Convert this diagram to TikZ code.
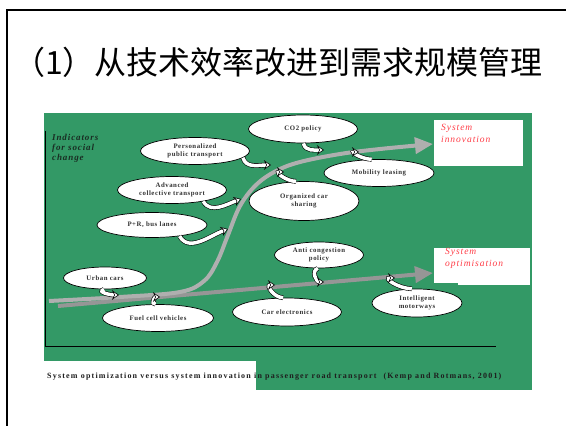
\documentclass[tikz,border=0pt]{standalone}
\usepackage{fontspec}
\setmainfont{Liberation Serif}
\newfontfamily\cjk{Noto Sans CJK SC}
\newfontfamily\lblfont[LetterSpace=8]{Liberation Serif}
\newfontfamily\capfont[LetterSpace=15]{Liberation Serif}
\newfontfamily\axfont[LetterSpace=10]{Liberation Serif}
\usetikzlibrary{arrows.meta,shapes.geometric}
\definecolor{grn}{RGB}{51,153,102}
\definecolor{gline}{RGB}{175,175,175}
\definecolor{dline}{RGB}{150,150,150}
\definecolor{redtxt}{RGB}{255,60,70}
\definecolor{lbl}{RGB}{50,50,50}
\tikzset{
  oval/.style={ellipse, draw=black, line width=0.7pt, fill=white, inner sep=0pt,
    align=center, font=\lblfont\fontsize{6.8}{8}\selectfont\bfseries, text=lbl},
  carr/.style={line width=0.6pt, draw=black, double=white, double distance=3.5pt,
    -{Stealth[length=7pt,width=9.5pt,fill=white,line width=0.6pt]}},
  bigarr/.style={line width=4pt, -{Triangle[length=18pt,width=16pt]}},
  redlbl/.style={anchor=north west, align=left, text=redtxt, inner sep=0pt,
    font=\axfont\fontsize{9.5}{12}\selectfont\itshape},
}
\begin{document}
\begin{tikzpicture}[x=1pt,y=-1pt]
\useasboundingbox (0,0) rectangle (566,426);
\fill[white] (0,0) rectangle (566,426);
\draw[line width=2pt] (7,426) -- (7,10) -- (566,10);
\node[anchor=west, inner sep=0pt, font=\cjk\fontsize{32}{34}\selectfont] (title) at (13,62) {（1）从技术效率改进到需求规模管理};
% green panel
\fill[grn] (44,113) rectangle (532,390);
\fill[white] (44,361) rectangle (256,390);
\draw[line width=1pt] (45,131) -- (45,346) -- (496,346);
% labels boxes
\fill[white] (434,120) rectangle (523,166);
\fill[white] (434,248) rectangle (530,283);
\fill[white] (458,250) rectangle (530,285);
\node[redlbl] (sysinn) at (441,124) {System\\innovation};
\node[redlbl] (sysopt) at (445,248) {System\\optimisation};
\node[anchor=north west, align=left, inner sep=0pt, text={rgb,255:red,25;green,45;blue,35},
  font=\axfont\fontsize{9}{10.2}\selectfont\bfseries\itshape] (ind) at (52,134) {Indicators\\for social\\change};
% main arrows
\coordinate (optS) at (58,306);
\coordinate (optE) at (433,273);
\draw[bigarr, dline] (optS) -- (optE);
\draw[bigarr, gline] plot[smooth, tension=0.6] coordinates {(49,301) (120,297) (180,292) (204,281) (217,262) (228,235) (240,206) (256,185) (276,171) (300,162) (340,154) (380,149) (433,144)};
% ellipses
\node[oval, minimum width=109pt, minimum height=27pt] (pers) at (195,151) {Personalized\\public transport};
\node[oval, minimum width=109pt, minimum height=27pt] (adv) at (172,190) {Advanced\\collective transport};
\node[oval, minimum width=110pt, minimum height=25pt] (pr) at (152,225) {P+R, bus lanes};
\node[oval, minimum width=109pt, minimum height=28pt] (co2) at (303,129) {CO2 policy};
\node[oval, minimum width=110pt, minimum height=27pt] (mob) at (379,173) {Mobility leasing};
\node[oval, minimum width=110pt, minimum height=39pt] (org) at (304,201) {Organized car\\sharing};
\node[oval, minimum width=83pt, minimum height=22pt] (urban) at (105,278) {Urban cars};
\node[oval, minimum width=111pt, minimum height=27pt] (fuel) at (158,318) {Fuel cell vehicles};
\node[oval, minimum width=109pt, minimum height=28pt] (carel) at (287,312) {Car electronics};
\node[oval, minimum width=89pt, minimum height=26pt] (anti) at (319,255) {Anti congestion\\policy};
\node[oval, minimum width=90pt, minimum height=28pt] (intel) at (417,303) {Intelligent\\motorways};
% curved arrows
\coordinate (e1) at (271,165);
\coordinate (e2) at (284,172);
\coordinate (e3) at (241,199);
\coordinate (e4) at (228,229);
\coordinate (e5) at (324,150);
\coordinate (e6) at (359,152);
\coordinate (e7) at (119,295);
\coordinate (e8) at (160,297);
\coordinate (e9) at (275,285);
\coordinate (e10) at (324,282);
\coordinate (e11) at (395,278);
\draw[carr] (pers.-8) to[out=-75,in=180] (e1);
\draw[carr] (org.112) to[out=180,in=180,looseness=1.6] (e2);
\draw[carr] (adv.-20) to[out=-60,in=200] (e3);
\draw[carr] (pr.-22) to[out=-60,in=200] (e4);
\draw[carr] (co2.-88) to[out=-80,in=180] (e5);
\draw[carr] (mob.118) to[out=180,in=180,looseness=1.6] (e6);
\draw[carr] (urban.-95) to[out=200,in=180,looseness=1.3] (e7);
\draw[carr] (fuel.100) to[out=180,in=180,looseness=1.6] (e8);
\draw[carr] (carel.105) to[out=180,in=180,looseness=1.6] (e9);
\draw[carr] (anti.-95) to[out=200,in=180,looseness=1.3] (e10);
\draw[carr] (intel.110) to[out=180,in=180,looseness=1.6] (e11);
% caption
\node[anchor=base west, inner sep=0pt, font=\capfont\fontsize{8}{9}\selectfont\bfseries, text={rgb,255:red,30;green,30;blue,30}] (cap) at (47,378) {System optimization versus system innovation in passenger road transport\hspace{4pt} (Kemp and Rotmans, 2001)};
\end{tikzpicture}
\end{document}
